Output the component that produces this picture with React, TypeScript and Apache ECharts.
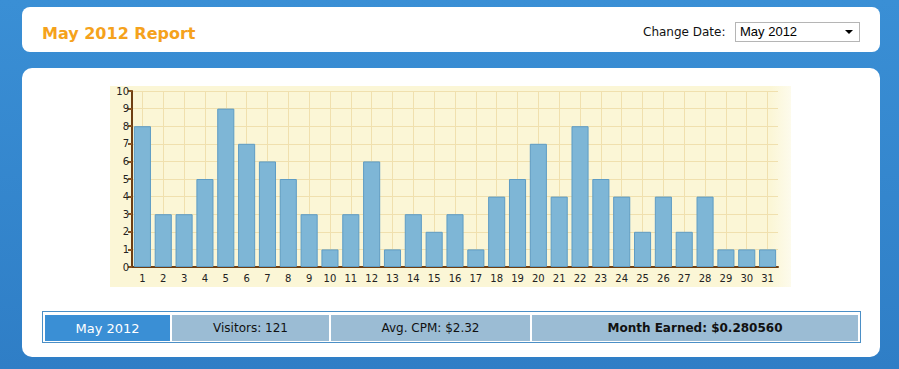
import React, { useEffect, useRef } from "react";
import * as echarts from "echarts";

const days: string[] = [
  "1","2","3","4","5","6","7","8","9","10","11","12","13","14","15","16",
  "17","18","19","20","21","22","23","24","25","26","27","28","29","30","31",
];
const visitors: number[] = [
  8, 3, 3, 5, 9, 7, 6, 5, 3, 1, 3, 6, 1, 3, 2, 3,
  1, 4, 5, 7, 4, 8, 5, 4, 2, 4, 2, 4, 1, 1, 1,
];
const yTicks: number[] = [0, 10, 1]; // min, max, interval

const reportTitle = "May 2012 Report";
const monthLabel = "May 2012";
const summary = {
  visitors: "Visitors: 121",
  cpm: "Avg. CPM: $2.32",
  earned: "Month Earned: $0.280560",
};

const FONT = "Verdana, 'DejaVu Sans', sans-serif";

function Chart() {
  const ref = useRef<HTMLDivElement>(null);
  useEffect(() => {
    if (!ref.current) return;
    const chart = echarts.init(ref.current, undefined, { renderer: "svg" });
    chart.setOption({
      animation: false,
      grid: { left: 22, top: 5, right: 13, bottom: 20, containLabel: false },
      xAxis: {
        type: "category",
        data: days,
        boundaryGap: true,
        axisLine: { lineStyle: { color: "#6e3e12", width: 2 } },
        axisTick: { alignWithLabel: true, length: 4, lineStyle: { color: "#8a5220", width: 2 } },
        axisLabel: { color: "#222", fontSize: 10, fontFamily: FONT, margin: 6, interval: 0 },
        splitLine: { show: true, alignWithLabel: true, lineStyle: { color: "#f0e0ae", width: 1 } },
      },
      yAxis: {
        type: "value",
        min: yTicks[0],
        max: yTicks[1],
        interval: yTicks[2],
        axisLine: { show: true, lineStyle: { color: "#6e3e12", width: 2 } },
        axisTick: { show: true, length: 4, lineStyle: { color: "#8a5220", width: 2 } },
        axisLabel: { color: "#222", fontSize: 10, fontFamily: FONT, margin: 3 },
        splitLine: { show: true, lineStyle: { color: "#f0e0ae", width: 1 } },
      },
      series: [
        {
          type: "bar",
          data: visitors,
          barCategoryGap: "18%",
          itemStyle: { color: "#7eb6d6", borderColor: "#5e9cc4", borderWidth: 1 },
        },
      ],
    });
    return () => chart.dispose();
  }, []);
  return <div ref={ref} style={{ width: 681, height: 201 }} />;
}

const cellBase: React.CSSProperties = {
  position: "absolute",
  top: 3,
  height: 26,
  display: "flex",
  alignItems: "center",
  justifyContent: "center",
  fontSize: 12,
  color: "#111",
  background: "#9bbcd4",
};

export default function App() {
  return (
    <div
      style={{
        position: "fixed",
        left: 0,
        top: 0,
        width: 899,
        height: 369,
        background: "linear-gradient(#3a8fd5, #2f7ec6)",
        fontFamily: FONT,
        overflow: "hidden",
      }}
    >
      {/* header panel */}
      <div
        style={{
          position: "absolute",
          left: 22,
          top: 7,
          width: 858,
          height: 45,
          background: "#fff",
          borderRadius: 8,
        }}
      >
        <div
          style={{
            position: "absolute",
            left: 20,
            top: 17,
            fontSize: 16,
            lineHeight: "19px",
            fontWeight: "bold",
            color: "#f5a21c",
          }}
        >
          {reportTitle}
        </div>
        <div style={{ position: "absolute", left: 621, top: 18, fontSize: 12, color: "#111" }}>
          Change Date:
        </div>
        <div
          style={{
            position: "absolute",
            left: 713,
            top: 15,
            width: 123,
            height: 18,
            border: "1px solid #b5b5b5",
            background: "#fff",
            fontFamily: "'Liberation Sans', Arial, sans-serif",
            fontSize: 13,
            color: "#000",
          }}
        >
          <span style={{ position: "absolute", left: 4, top: 1 }}>{monthLabel}</span>
          <span
            style={{
              position: "absolute",
              right: 6,
              top: 7,
              width: 0,
              height: 0,
              borderLeft: "4px solid transparent",
              borderRight: "4px solid transparent",
              borderTop: "4px solid #000",
            }}
          />
        </div>
      </div>

      {/* main panel */}
      <div
        style={{
          position: "absolute",
          left: 22,
          top: 68,
          width: 858,
          height: 289,
          background: "#fff",
          borderRadius: 10,
        }}
      />
      <div
        style={{
          position: "absolute",
          left: 110,
          top: 86,
          width: 681,
          height: 201,
          background: "linear-gradient(to right, #fbf6d6 97%, #fdfbec 100%)",
        }}
      >
        <Chart />
      </div>

      {/* summary table */}
      <div
        style={{
          position: "absolute",
          left: 42,
          top: 311,
          width: 817,
          height: 30,
          border: "1px solid #4b8fc6",
          background: "#fff",
        }}
      >
        <div style={{ ...cellBase, left: 2, width: 125, background: "#3a8fd5", color: "#fff", fontSize: 13 }}>
          {monthLabel}
        </div>
        <div style={{ ...cellBase, left: 129, width: 157 }}>{summary.visitors}</div>
        <div style={{ ...cellBase, left: 288, width: 199 }}>{summary.cpm}</div>
        <div style={{ ...cellBase, left: 489, width: 326, fontWeight: "bold" }}>{summary.earned}</div>
      </div>
    </div>
  );
}
